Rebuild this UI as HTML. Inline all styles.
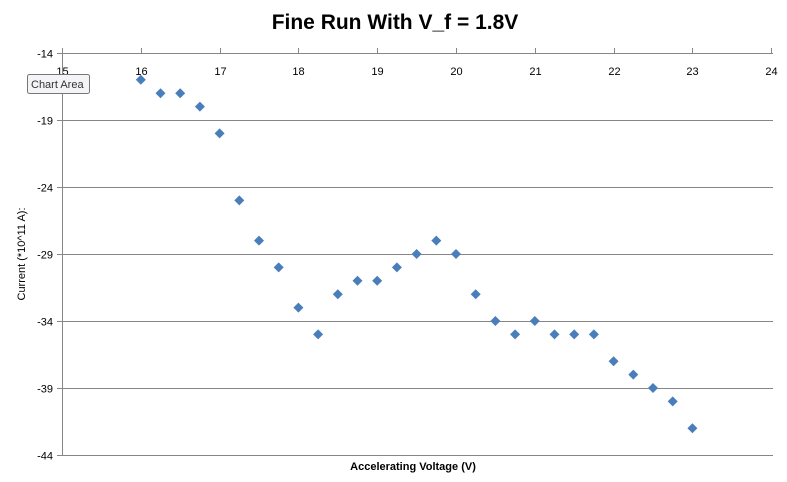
<!DOCTYPE html>
<html><head><meta charset="utf-8"><style>
html,body{margin:0;padding:0;background:#fff;}
svg{display:block;font-family:"Liberation Sans",Arial,sans-serif;}
</style></head><body>
<svg id="c" width="787" height="482" viewBox="0 0 787 482" xmlns="http://www.w3.org/2000/svg">
<rect width="787" height="482" fill="#fff"/>
<text x="395" y="29" text-anchor="middle" font-size="21" font-weight="bold" fill="#000">Fine Run With V_f = 1.8V</text>
<g id="grid" stroke="#868686" stroke-width="1"></g>
<g id="lbl" font-size="11" fill="#000"></g>
<g id="pts" fill="#4a7ebb"></g>
<text x="413" y="470" text-anchor="middle" font-size="11" font-weight="bold">Accelerating Voltage (V)</text>
<text transform="translate(25,254) rotate(-90)" text-anchor="middle" font-size="11">Current (*10^11 A):</text>
<rect x="27.5" y="74.5" width="62" height="19" rx="2" fill="#f4f4f6" stroke="#767676"/>
<text x="31" y="88" font-size="11" fill="#333">Chart Area</text>
</svg>
<script>
var ns="http://www.w3.org/2000/svg";
function el(p,t,a){var e=document.createElementNS(ns,t);for(var k in a)e.setAttribute(k,a[k]);p.appendChild(e);return e;}
var g=document.getElementById('grid'),l=document.getElementById('lbl'),P=document.getElementById('pts');
function X(v){return 62+(v-15)*78.8;}
function Y(v){return 53+(-14-v)*13.4;}
for(var i=0;i<=6;i++){var v=-14-5*i,y=Math.round(Y(v))+0.5;
 el(g,'line',{x1:57,x2:773,y1:y,y2:y});
 var t=el(l,'text',{x:53,y:y+4,'text-anchor':'end'});t.textContent=v;}
el(g,'line',{x1:62.5,x2:62.5,y1:53,y2:456});
for(var j=15;j<=24;j++){var x=Math.round(X(j))+0.5;
 el(g,'line',{x1:x,x2:x,y1:48,y2:53});
 var t=el(l,'text',{x:x,y:75,'text-anchor':'middle'});t.textContent=j;}
var d=[[16,-16],[16.25,-17],[16.5,-17],[16.75,-18],[17,-20],[17.25,-25],[17.5,-28],[17.75,-30],[18,-33],[18.25,-35],[18.5,-32],[18.75,-31],[19,-31],[19.25,-30],[19.5,-29],[19.75,-28],[20,-29],[20.25,-32],[20.5,-34],[20.75,-35],[21,-34],[21.25,-35],[21.5,-35],[21.75,-35],[22,-37],[22.25,-38],[22.5,-39],[22.75,-40],[23,-42]];
d.forEach(function(p){var x=X(p[0]),y=Y(p[1]);
 el(P,'polygon',{points:(x)+','+(y-5)+' '+(x+5)+','+y+' '+x+','+(y+5)+' '+(x-5)+','+y});});
</script>
</body></html>
